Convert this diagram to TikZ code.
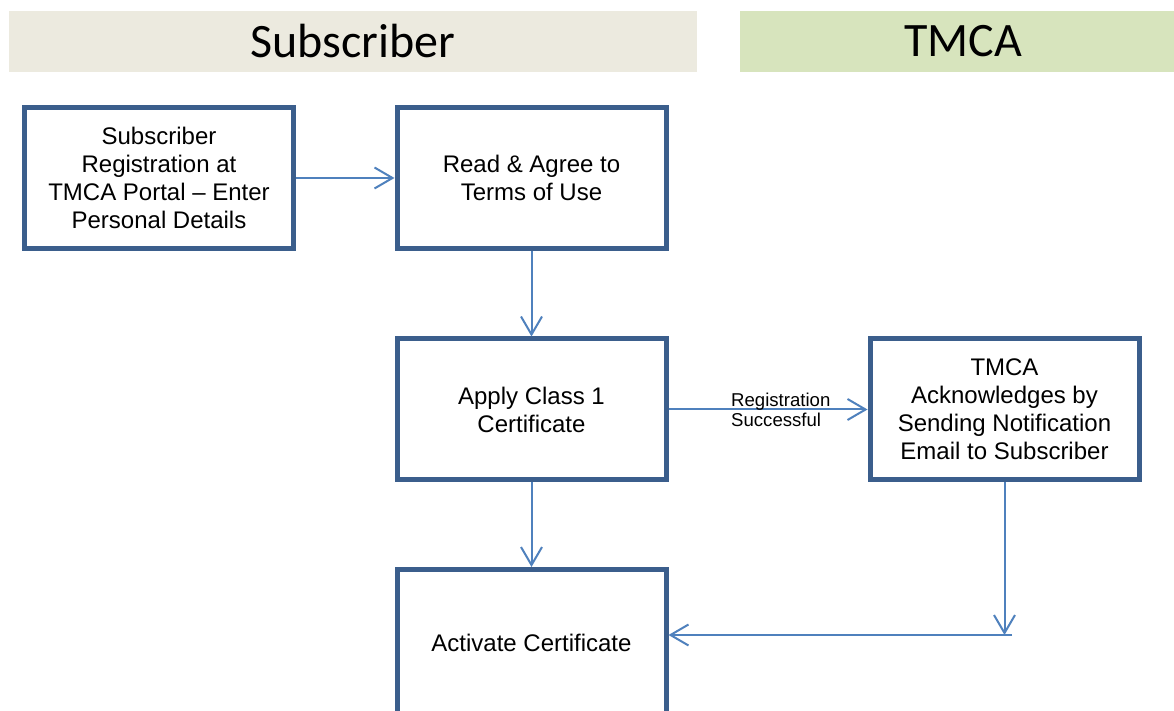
\documentclass[tikz,border=0pt]{standalone}
\usepackage{fontspec}
\setmainfont{Liberation Sans}
\newfontfamily\headfont{Carlito}
\usetikzlibrary{arrows.meta}
\definecolor{boxblue}{HTML}{3B5E8C}
\definecolor{flowblue}{HTML}{4F81BD}
\definecolor{subtan}{HTML}{ECEADF}
\definecolor{caolive}{HTML}{D7E4BD}
\begin{document}
\begin{tikzpicture}[x=0.5pt,y=0.5pt]
\tikzstyle{lane}=[inner sep=0pt, minimum height=30.5pt, font=\headfont\fontsize{24}{28}\selectfont]
\tikzstyle{stepbox}=[draw=boxblue, line width=2.5pt, fill=white, inner sep=0pt, minimum width=134.5pt, minimum height=70.5pt, align=center, font=\fontsize{12}{14}\selectfont]
\tikzstyle{flow}=[draw=flowblue, line width=1pt, -{Straight Barb[length=9pt,width=10.5pt,line width=1pt]}]
\tikzstyle{note}=[inner sep=0pt, align=left, font=\fontsize{9.3}{10}\selectfont]
\useasboundingbox (0,0) rectangle (1174,-711);
\clip (0,0) rectangle (1174,-711);
\fill [white] (0,0) rectangle (1174,-711);

% lane headers
\node (lanesub) [lane, fill=subtan, minimum width=344pt] at (353,-41.5) {Subscriber};
\node (laneca) [lane, fill=caolive, minimum width=217pt] at (957,-41.5) {\hspace{6pt}TMCA};

% steps
\node (reg) [stepbox] at (159,-178) {Subscriber\\Registration at\\TMCA Portal -- Enter\\Personal Details};
\node (agree) [stepbox] at (531.5,-178) {Read \& Agree to\\Terms of Use};
\node (apply) [stepbox] at (531.5,-409.5) {Apply Class 1\\Certificate};
\node (ack) [stepbox] at (1004.5,-409.5) {TMCA\\Acknowledges by\\Sending Notification\\Email to Subscriber};
\node (act) [stepbox, minimum height=73pt] at (531.5,-642.5) {Activate Certificate};

\coordinate (bend) at (1004.5,-635);
\coordinate (tail) at (1012,-635);

% connectors
\draw [flow] (reg.east) -- (agree.west);
\draw [flow] (agree.south) -- (apply.north);
\draw [flow] (apply.east) -- node (regok) [note, pos=0.31, anchor=west] {Registration\\Successful} (apply.east -| ack.west);
\draw [flow] (apply.south) -- (act.north);
\draw [flow] (ack.south) -- (bend);
\draw [flow] (tail) -- (tail -| act.east);
\end{tikzpicture}
\end{document}
